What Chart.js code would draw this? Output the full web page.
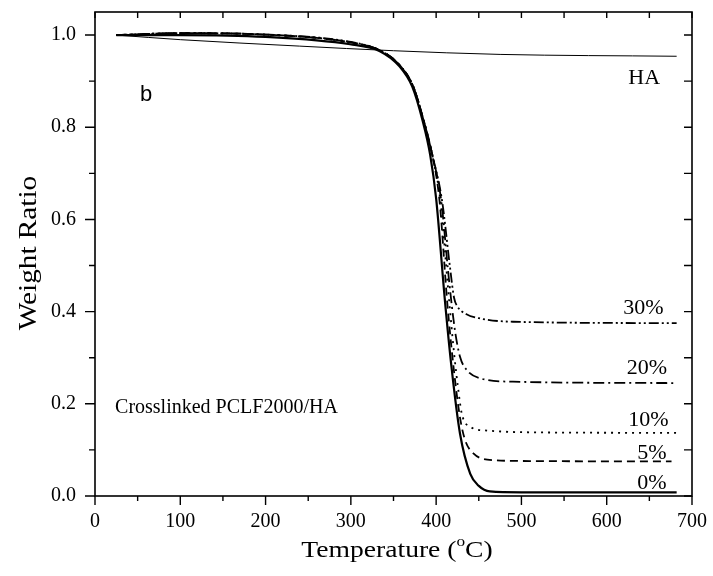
<!DOCTYPE html>
<html>
<head>
<meta charset="utf-8">
<script src="https://cdn.jsdelivr.net/npm/chart.js@4.4.1/dist/chart.umd.min.js"></script>
<style>
  html, body { margin: 0; padding: 0; background: #fff; }
  #wrap { width: 713px; height: 576px; }
</style>
</head>
<body>
<div id="wrap"><canvas id="tga" width="713" height="576"></canvas></div>
<script>
// values (temperature in °C, weight ratio)
const xTicks = [0, 100, 200, 300, 400, 500, 600, 700];
const yTicks = [0.0, 0.2, 0.4, 0.6, 0.8, 1.0];

const haT = [25, 100, 240, 350, 475, 682];
const haW = [1.0, 0.99, 0.976, 0.966, 0.958, 0.954];

const p0T = [25, 100, 200, 299, 334, 357, 372, 384, 393, 400, 410, 418, 428, 440, 450, 463, 500, 682];
const p0W = [1.0, 1.0, 0.996, 0.98, 0.965, 0.932, 0.888, 0.815, 0.74, 0.645, 0.43, 0.28, 0.135, 0.048, 0.022, 0.01, 0.008, 0.008];

const p5T = [25, 100, 200, 300, 335, 358, 373, 385, 395, 404, 413, 421, 428, 434, 444, 460, 500, 676];
const p5W = [1.0, 1.004, 1.001, 0.984, 0.966, 0.933, 0.889, 0.817, 0.744, 0.64, 0.42, 0.27, 0.17, 0.121, 0.092, 0.079, 0.076, 0.075];

const p10T = [25, 100, 200, 300, 335, 358, 373, 385, 395, 405, 414, 421, 426, 430, 440, 460, 520, 682];
const p10W = [1.0, 1.004, 1.001, 0.984, 0.966, 0.933, 0.889, 0.817, 0.744, 0.64, 0.45, 0.31, 0.23, 0.179, 0.15, 0.142, 0.138, 0.137];

const p20T = [25, 100, 200, 300, 335, 358, 373, 385, 395, 406, 415, 422, 428, 436, 452, 490, 682];
const p20W = [1.0, 1.004, 1.001, 0.984, 0.966, 0.933, 0.889, 0.817, 0.744, 0.64, 0.47, 0.36, 0.302, 0.273, 0.255, 0.248, 0.245];

const p30T = [25, 100, 200, 300, 335, 358, 373, 385, 395, 407, 416, 421, 425, 435, 452, 490, 682];
const p30W = [1.0, 1.004, 1.001, 0.985, 0.966, 0.933, 0.889, 0.817, 0.744, 0.64, 0.5, 0.43, 0.411, 0.395, 0.385, 0.378, 0.375];

// text labels inside the plot, in data units
const notes = [
  { text: 'HA', x: 644, y: 0.907 },
  { text: '30%', x: 643, y: 0.407 },
  { text: '20%', x: 647, y: 0.277 },
  { text: '10%', x: 649, y: 0.164 },
  { text: '5%', x: 653, y: 0.092 },
  { text: '0%', x: 653, y: 0.027 }
];

const serif = '"Liberation Serif", "Times New Roman", serif';

function pts(xs, ys) { return xs.map((x, i) => ({ x, y: ys[i] })); }

function series(label, xs, ys, width, dash) {
  return {
    label,
    data: pts(xs, ys),
    borderColor: '#000',
    borderWidth: width,
    borderDash: dash,
    pointRadius: 0,
    fill: false,
    cubicInterpolationMode: 'monotone'
  };
}

const decor = {
  id: 'decor',
  afterDraw(chart) {
    const ctx = chart.ctx;
    const a = chart.chartArea;
    const xs = chart.scales.x, ys = chart.scales.y;
    ctx.save();
    ctx.strokeStyle = '#000';
    ctx.lineWidth = 1.6;
    ctx.strokeRect(a.left, a.top, a.right - a.left, a.bottom - a.top);

    // tick marks: outward on bottom/left, inward on top/right
    ctx.lineWidth = 1.4;
    ctx.beginPath();
    for (let v = 0; v <= 700; v += 50) {
      const px = xs.getPixelForValue(v);
      const major = v % 100 === 0;
      ctx.moveTo(px, a.bottom);
      ctx.lineTo(px, a.bottom + (major ? 9 : 5));
      ctx.moveTo(px, a.top);
      ctx.lineTo(px, a.top + 6);
    }
    for (let i = 0; i <= 10; i++) {
      const py = ys.getPixelForValue(i / 10);
      const major = i % 2 === 0;
      ctx.moveTo(a.left, py);
      ctx.lineTo(a.left - (major ? 10 : 6), py);
      ctx.moveTo(a.right, py);
      ctx.lineTo(a.right - 8, py);
    }
    ctx.stroke();

    ctx.fillStyle = '#000';
    ctx.font = '20px ' + serif;
    ctx.textAlign = 'center';
    ctx.textBaseline = 'middle';
    xTicks.forEach(v => ctx.fillText(String(v), xs.getPixelForValue(v), a.bottom + 26));
    ctx.textAlign = 'right';
    yTicks.forEach(v => ctx.fillText(v.toFixed(1), a.left - 19, ys.getPixelForValue(v)));

    ctx.textAlign = 'left';
    ctx.fillText('Crosslinked PCLF2000/HA', xs.getPixelForValue(23.5), ys.getPixelForValue(0.192));

    ctx.textAlign = 'center';
    ctx.font = '22px ' + serif;
    notes.forEach(n => ctx.fillText(n.text, xs.getPixelForValue(n.x), ys.getPixelForValue(n.y)));

    ctx.font = '22px "Liberation Sans", Arial, sans-serif';
    ctx.fillText('b', xs.getPixelForValue(60), ys.getPixelForValue(0.869));

    // x title, slightly wide like the scanned figure
    ctx.save();
    ctx.translate(397, 551);
    ctx.scale(1.15, 1);
    const parts = ['Temperature (', 'o', 'C)'];
    ctx.font = '24px ' + serif;
    const w0 = ctx.measureText(parts[0]).width;
    const w2 = ctx.measureText(parts[2]).width;
    ctx.font = '15px ' + serif;
    const w1 = ctx.measureText(parts[1]).width;
    const sx = -(w0 + w1 + w2) / 2;
    ctx.textAlign = 'left';
    ctx.font = '24px ' + serif;
    ctx.fillText(parts[0], sx, 0);
    ctx.font = '15px ' + serif;
    ctx.fillText(parts[1], sx + w0, -9);
    ctx.font = '24px ' + serif;
    ctx.fillText(parts[2], sx + w0 + w1, 0);
    ctx.restore();

    // y title
    ctx.save();
    ctx.translate(29, 253);
    ctx.rotate(-Math.PI / 2);
    ctx.scale(1.17, 1);
    ctx.textAlign = 'center';
    ctx.font = '25px ' + serif;
    ctx.fillText('Weight Ratio', 0, 0);
    ctx.restore();

    ctx.restore();
  }
};

new Chart(document.getElementById('tga'), {
  type: 'line',
  data: {
    datasets: [
      series('HA', haT, haW, 1, []),
      series('0%', p0T, p0W, 2.2, []),
      series('5%', p5T, p5W, 1.8, [8, 5]),
      series('10%', p10T, p10W, 1.8, [2, 5]),
      series('20%', p20T, p20W, 1.8, [11, 4, 2, 4]),
      series('30%', p30T, p30W, 1.8, [10, 3, 2, 3, 2, 3])
    ]
  },
  options: {
    responsive: false,
    animation: false,
    layout: { padding: { top: 12, right: 21, left: 0, bottom: 0 } },
    plugins: { legend: { display: false }, tooltip: { enabled: false } },
    scales: {
      x: {
        type: 'linear',
        min: 0, max: 700,
        afterFit: s => { s.height = 80; },
        grid: { display: false, drawTicks: false },
        border: { display: false },
        ticks: { display: false }
      },
      y: {
        min: 0, max: 1.05,
        afterFit: s => { s.width = 95; },
        grid: { display: false, drawTicks: false },
        border: { display: false },
        ticks: { display: false }
      }
    }
  },
  plugins: [decor]
});
</script>
</body>
</html>
